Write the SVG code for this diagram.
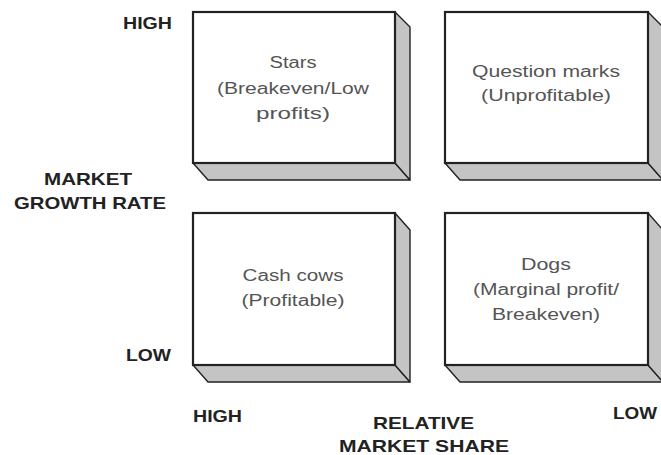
<svg xmlns="http://www.w3.org/2000/svg" width="661" height="455" viewBox="0 0 661 455">
<defs>
<style>
.front{fill:#fff;stroke:#222;stroke-width:2.2}
.side{fill:#c4c4c4;stroke:#222;stroke-width:1.4;stroke-linejoin:round}
.t{font-family:"Liberation Sans",Arial,sans-serif;font-size:16px;fill:#555;text-anchor:middle}
.lab{font-family:"Liberation Sans",Arial,sans-serif;font-size:17px;font-weight:bold;fill:#222}
</style>
</defs>
<rect width="661" height="455" fill="#fff"/>
<g id="stars">
<polygon class="side" points="193,163 208,180 410,180 395,163"/>
<polygon class="side" points="395,12 410,27 410,180 395,163"/>
<rect class="front" x="193" y="12" width="202" height="151"/>
<text class="t" x="293" y="68" textLength="47" lengthAdjust="spacingAndGlyphs">Stars</text>
<text class="t" x="293" y="94" textLength="152" lengthAdjust="spacingAndGlyphs">(Breakeven/Low</text>
<text class="t" x="293" y="119" textLength="74" lengthAdjust="spacingAndGlyphs">profits)</text>
</g>
<g id="question-marks">
<polygon class="side" points="445,163 460,180 663,180 648,163"/>
<polygon class="side" points="648,12 663,27 663,180 648,163"/>
<rect class="front" x="445" y="12" width="203" height="151"/>
<text class="t" x="546" y="77" textLength="148" lengthAdjust="spacingAndGlyphs">Question marks</text>
<text class="t" x="546" y="101" textLength="130" lengthAdjust="spacingAndGlyphs">(Unprofitable)</text>
</g>
<g id="cash-cows">
<polygon class="side" points="193,365 208,382 410,382 395,365"/>
<polygon class="side" points="395,213 410,230 410,382 395,365"/>
<rect class="front" x="193" y="213" width="202" height="152"/>
<text class="t" x="293" y="281" textLength="101" lengthAdjust="spacingAndGlyphs">Cash cows</text>
<text class="t" x="293" y="306" textLength="103" lengthAdjust="spacingAndGlyphs">(Profitable)</text>
</g>
<g id="dogs">
<polygon class="side" points="445,365 460,382 663,382 648,365"/>
<polygon class="side" points="648,213 663,230 663,382 648,365"/>
<rect class="front" x="445" y="213" width="203" height="152"/>
<text class="t" x="546" y="270" textLength="50" lengthAdjust="spacingAndGlyphs">Dogs</text>
<text class="t" x="546" y="295" textLength="146" lengthAdjust="spacingAndGlyphs">(Marginal profit/</text>
<text class="t" x="546" y="320" textLength="108" lengthAdjust="spacingAndGlyphs">Breakeven)</text>
</g>
<g id="axis-labels">
<text class="lab" x="123" y="29" textLength="49" lengthAdjust="spacingAndGlyphs">HIGH</text>
<text class="lab" x="44" y="185" textLength="88" lengthAdjust="spacingAndGlyphs">MARKET</text>
<text class="lab" x="14" y="209" textLength="152" lengthAdjust="spacingAndGlyphs">GROWTH RATE</text>
<text class="lab" x="126" y="361" textLength="45" lengthAdjust="spacingAndGlyphs">LOW</text>
<text class="lab" x="193" y="422" textLength="49" lengthAdjust="spacingAndGlyphs">HIGH</text>
<text class="lab" x="373" y="429" textLength="101" lengthAdjust="spacingAndGlyphs">RELATIVE</text>
<text class="lab" x="339" y="452" textLength="170" lengthAdjust="spacingAndGlyphs">MARKET SHARE</text>
<text class="lab" x="613" y="419" textLength="44" lengthAdjust="spacingAndGlyphs">LOW</text>
</g>
<g id="connectors"/>
</svg>
